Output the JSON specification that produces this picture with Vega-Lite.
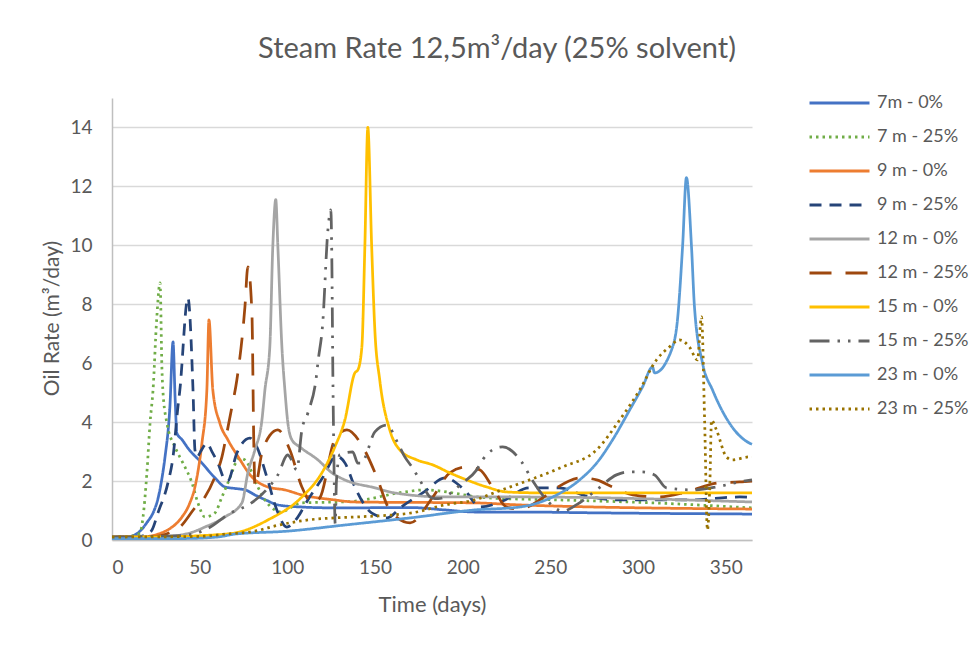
{
"$schema":"https://vega.github.io/schema/vega-lite/v6.json",
"width":640,"height":442,
"autosize":{"type":"none"},
"padding":{"left":112,"top":98,"right":224,"bottom":106},
"background":"white",
"config":{"view":{"stroke":null},"font":"Lato"},
"title":{"text":"Steam Rate 12,5m³/day (25% solvent)","fontSize":29,"fontWeight":"normal","color":"#595959","anchor":"middle","dx":65,"offset":22,"font":"Lato"},
"datasets":{"raw":[
{"s":"7m - 0%","d":0,"v":0.1},{"s":"7m - 0%","d":10,"v":0.12},{"s":"7m - 0%","d":15,"v":0.25},{"s":"7m - 0%","d":20,"v":0.6},{"s":"7m - 0%","d":24,"v":1.0},{"s":"7m - 0%","d":26.2,"v":1.4},{"s":"7m - 0%","d":28.5,"v":2.1},{"s":"7m - 0%","d":30.2,"v":2.8},{"s":"7m - 0%","d":33,"v":4.5},{"s":"7m - 0%","d":34.8,"v":6.72},{"s":"7m - 0%","d":36,"v":4.8},{"s":"7m - 0%","d":37,"v":3.63},{"s":"7m - 0%","d":40,"v":3.4},{"s":"7m - 0%","d":43.3,"v":3.12},{"s":"7m - 0%","d":51.3,"v":2.61},{"s":"7m - 0%","d":58.7,"v":2.11},{"s":"7m - 0%","d":64.4,"v":1.8},{"s":"7m - 0%","d":70,"v":1.75},{"s":"7m - 0%","d":76,"v":1.7},{"s":"7m - 0%","d":81.5,"v":1.53},{"s":"7m - 0%","d":88,"v":1.35},{"s":"7m - 0%","d":94.6,"v":1.19},{"s":"7m - 0%","d":108,"v":1.12},{"s":"7m - 0%","d":127,"v":1.09},{"s":"7m - 0%","d":171,"v":1.1},{"s":"7m - 0%","d":190,"v":1.02},{"s":"7m - 0%","d":207,"v":0.95},{"s":"7m - 0%","d":232,"v":0.95},{"s":"7m - 0%","d":278,"v":0.92},{"s":"7m - 0%","d":365,"v":0.88},

{"s":"7 m - 25%","d":0,"v":0.1},{"s":"7 m - 25%","d":10,"v":0.12},{"s":"7 m - 25%","d":14,"v":0.18},{"s":"7 m - 25%","d":16,"v":0.24},{"s":"7 m - 25%","d":17.7,"v":0.78},{"s":"7 m - 25%","d":19.9,"v":2.28},{"s":"7 m - 25%","d":21.7,"v":3.97},{"s":"7 m - 25%","d":23.4,"v":5.09},{"s":"7 m - 25%","d":25.5,"v":7.5},{"s":"7 m - 25%","d":27.4,"v":8.73},{"s":"7 m - 25%","d":28.5,"v":5.77},{"s":"7 m - 25%","d":29,"v":5.09},{"s":"7 m - 25%","d":31.3,"v":3.97},{"s":"7 m - 25%","d":35.9,"v":3.16},{"s":"7 m - 25%","d":40.5,"v":2.61},{"s":"7 m - 25%","d":45.6,"v":1.94},{"s":"7 m - 25%","d":49,"v":1.26},{"s":"7 m - 25%","d":53,"v":0.78},{"s":"7 m - 25%","d":58.7,"v":0.92},{"s":"7 m - 25%","d":62.7,"v":1.46},{"s":"7 m - 25%","d":66.1,"v":1.94},{"s":"7 m - 25%","d":72.9,"v":2.78},{"s":"7 m - 25%","d":75.8,"v":2.72},{"s":"7 m - 25%","d":83.2,"v":1.8},{"s":"7 m - 25%","d":87.2,"v":1.36},{"s":"7 m - 25%","d":92.9,"v":1.02},{"s":"7 m - 25%","d":96,"v":0.95},{"s":"7 m - 25%","d":108,"v":1.26},{"s":"7 m - 25%","d":135,"v":1.3},{"s":"7 m - 25%","d":167,"v":1.63},{"s":"7 m - 25%","d":178,"v":1.7},{"s":"7 m - 25%","d":214,"v":1.43},{"s":"7 m - 25%","d":255,"v":1.36},{"s":"7 m - 25%","d":308,"v":1.26},{"s":"7 m - 25%","d":365,"v":1.09},

{"s":"9 m - 0%","d":0,"v":0.1},{"s":"9 m - 0%","d":20,"v":0.12},{"s":"9 m - 0%","d":26.2,"v":0.2},{"s":"9 m - 0%","d":32,"v":0.35},{"s":"9 m - 0%","d":39.9,"v":0.78},{"s":"9 m - 0%","d":44,"v":1.2},{"s":"9 m - 0%","d":47.3,"v":1.8},{"s":"9 m - 0%","d":49.5,"v":2.5},{"s":"9 m - 0%","d":51.3,"v":3.29},{"s":"9 m - 0%","d":54.1,"v":5.09},{"s":"9 m - 0%","d":55.3,"v":7.47},{"s":"9 m - 0%","d":57.5,"v":5.09},{"s":"9 m - 0%","d":61.5,"v":3.97},{"s":"9 m - 0%","d":66.1,"v":3.4},{"s":"9 m - 0%","d":72,"v":2.82},{"s":"9 m - 0%","d":79.8,"v":2.14},{"s":"9 m - 0%","d":88.9,"v":1.8},{"s":"9 m - 0%","d":98.6,"v":1.7},{"s":"9 m - 0%","d":108.3,"v":1.53},{"s":"9 m - 0%","d":127,"v":1.36},{"s":"9 m - 0%","d":138.5,"v":1.29},{"s":"9 m - 0%","d":207,"v":1.26},{"s":"9 m - 0%","d":232.5,"v":1.19},{"s":"9 m - 0%","d":365,"v":1.05},

{"s":"9 m - 25%","d":0,"v":0.1},{"s":"9 m - 25%","d":15,"v":0.12},{"s":"9 m - 25%","d":20,"v":0.2},{"s":"9 m - 25%","d":22.8,"v":0.34},{"s":"9 m - 25%","d":26.2,"v":0.92},{"s":"9 m - 25%","d":31.9,"v":1.94},{"s":"9 m - 25%","d":34.8,"v":2.82},{"s":"9 m - 25%","d":37.6,"v":4.52},{"s":"9 m - 25%","d":38.7,"v":5.09},{"s":"9 m - 25%","d":43.3,"v":8.22},{"s":"9 m - 25%","d":46.2,"v":5.09},{"s":"9 m - 25%","d":47.3,"v":3.06},{"s":"9 m - 25%","d":48.4,"v":2.82},{"s":"9 m - 25%","d":51,"v":3.05},{"s":"9 m - 25%","d":54.1,"v":3.29},{"s":"9 m - 25%","d":57,"v":3.0},{"s":"9 m - 25%","d":60.4,"v":2.61},{"s":"9 m - 25%","d":64.4,"v":2.04},{"s":"9 m - 25%","d":66,"v":2.0},{"s":"9 m - 25%","d":71.2,"v":2.95},{"s":"9 m - 25%","d":78.6,"v":3.46},{"s":"9 m - 25%","d":82.6,"v":3.16},{"s":"9 m - 25%","d":88.3,"v":2.14},{"s":"9 m - 25%","d":94,"v":1.02},{"s":"9 m - 25%","d":99.7,"v":0.44},{"s":"9 m - 25%","d":106,"v":0.78},{"s":"9 m - 25%","d":111,"v":1.29},{"s":"9 m - 25%","d":120,"v":2.1},{"s":"9 m - 25%","d":128,"v":2.85},{"s":"9 m - 25%","d":133,"v":2.6},{"s":"9 m - 25%","d":138.5,"v":1.8},{"s":"9 m - 25%","d":148,"v":0.92},{"s":"9 m - 25%","d":157,"v":0.75},{"s":"9 m - 25%","d":165,"v":1.12},{"s":"9 m - 25%","d":178,"v":1.63},{"s":"9 m - 25%","d":190,"v":2.11},{"s":"9 m - 25%","d":201,"v":1.7},{"s":"9 m - 25%","d":210,"v":1.12},{"s":"9 m - 25%","d":222,"v":1.3},{"s":"9 m - 25%","d":238,"v":1.77},{"s":"9 m - 25%","d":255,"v":1.77},{"s":"9 m - 25%","d":270,"v":1.5},{"s":"9 m - 25%","d":290,"v":1.36},{"s":"9 m - 25%","d":330,"v":1.36},{"s":"9 m - 25%","d":358,"v":1.46},{"s":"9 m - 25%","d":365,"v":1.45},

{"s":"12 m - 0%","d":0,"v":0.1},{"s":"12 m - 0%","d":30,"v":0.12},{"s":"12 m - 0%","d":45,"v":0.25},{"s":"12 m - 0%","d":53,"v":0.44},{"s":"12 m - 0%","d":64.4,"v":0.78},{"s":"12 m - 0%","d":74.1,"v":1.26},{"s":"12 m - 0%","d":77.5,"v":2.28},{"s":"12 m - 0%","d":81.5,"v":3.06},{"s":"12 m - 0%","d":85.5,"v":4.07},{"s":"12 m - 0%","d":87.2,"v":5.09},{"s":"12 m - 0%","d":90,"v":6.55},{"s":"12 m - 0%","d":91.7,"v":9.95},{"s":"12 m - 0%","d":93.4,"v":11.55},{"s":"12 m - 0%","d":94.6,"v":9.95},{"s":"12 m - 0%","d":96.9,"v":6.55},{"s":"12 m - 0%","d":98.6,"v":5.09},{"s":"12 m - 0%","d":100.3,"v":3.97},{"s":"12 m - 0%","d":102.6,"v":3.4},{"s":"12 m - 0%","d":107.1,"v":3.16},{"s":"12 m - 0%","d":117.4,"v":2.72},{"s":"12 m - 0%","d":125.4,"v":2.28},{"s":"12 m - 0%","d":132.8,"v":2.04},{"s":"12 m - 0%","d":150,"v":1.77},{"s":"12 m - 0%","d":161,"v":1.6},{"s":"12 m - 0%","d":190,"v":1.46},{"s":"12 m - 0%","d":232,"v":1.46},{"s":"12 m - 0%","d":365,"v":1.29},

{"s":"12 m - 25%","d":0,"v":0.1},{"s":"12 m - 25%","d":25,"v":0.12},{"s":"12 m - 25%","d":33,"v":0.25},{"s":"12 m - 25%","d":38.7,"v":0.44},{"s":"12 m - 25%","d":47.3,"v":1.09},{"s":"12 m - 25%","d":53,"v":1.46},{"s":"12 m - 25%","d":58.7,"v":2.14},{"s":"12 m - 25%","d":62.7,"v":2.82},{"s":"12 m - 25%","d":65.5,"v":3.63},{"s":"12 m - 25%","d":68.4,"v":4.52},{"s":"12 m - 25%","d":71.2,"v":5.43},{"s":"12 m - 25%","d":75.8,"v":7.9},{"s":"12 m - 25%","d":77.5,"v":9.27},{"s":"12 m - 25%","d":79.8,"v":7.7},{"s":"12 m - 25%","d":80.9,"v":3.16},{"s":"12 m - 25%","d":81.5,"v":1.8},{"s":"12 m - 25%","d":85.5,"v":2.95},{"s":"12 m - 25%","d":90,"v":3.55},{"s":"12 m - 25%","d":94.6,"v":3.74},{"s":"12 m - 25%","d":101.4,"v":3.06},{"s":"12 m - 25%","d":108.3,"v":1.8},{"s":"12 m - 25%","d":114,"v":1.26},{"s":"12 m - 25%","d":118.5,"v":1.43},{"s":"12 m - 25%","d":127,"v":3.4},{"s":"12 m - 25%","d":134,"v":3.74},{"s":"12 m - 25%","d":143,"v":3.16},{"s":"12 m - 25%","d":151,"v":2.14},{"s":"12 m - 25%","d":158.4,"v":1.02},{"s":"12 m - 25%","d":170,"v":0.58},{"s":"12 m - 25%","d":183,"v":1.46},{"s":"12 m - 25%","d":192.6,"v":2.28},{"s":"12 m - 25%","d":202.3,"v":2.48},{"s":"12 m - 25%","d":209.7,"v":2.38},{"s":"12 m - 25%","d":217,"v":1.8},{"s":"12 m - 25%","d":225,"v":1.12},{"s":"12 m - 25%","d":232,"v":1.05},{"s":"12 m - 25%","d":248,"v":1.53},{"s":"12 m - 25%","d":253.6,"v":1.77},{"s":"12 m - 25%","d":267.5,"v":2.11},{"s":"12 m - 25%","d":276.4,"v":2.04},{"s":"12 m - 25%","d":285.5,"v":1.8},{"s":"12 m - 25%","d":297,"v":1.53},{"s":"12 m - 25%","d":312,"v":1.46},{"s":"12 m - 25%","d":327.6,"v":1.63},{"s":"12 m - 25%","d":346,"v":1.94},{"s":"12 m - 25%","d":358,"v":1.97},{"s":"12 m - 25%","d":365,"v":2.0},

{"s":"15 m - 0%","d":0,"v":0.1},{"s":"15 m - 0%","d":40,"v":0.12},{"s":"15 m - 0%","d":51.3,"v":0.15},{"s":"15 m - 0%","d":70.1,"v":0.24},{"s":"15 m - 0%","d":88.9,"v":0.68},{"s":"15 m - 0%","d":108.3,"v":1.46},{"s":"15 m - 0%","d":119.7,"v":2.28},{"s":"15 m - 0%","d":127.1,"v":3.16},{"s":"15 m - 0%","d":132.8,"v":4.07},{"s":"15 m - 0%","d":138.5,"v":5.67},{"s":"15 m - 0%","d":140.2,"v":5.77},{"s":"15 m - 0%","d":142.5,"v":6.55},{"s":"15 m - 0%","d":144.2,"v":9.95},{"s":"15 m - 0%","d":145.9,"v":14.0},{"s":"15 m - 0%","d":148.1,"v":9.95},{"s":"15 m - 0%","d":149.9,"v":7.13},{"s":"15 m - 0%","d":152.7,"v":5.43},{"s":"15 m - 0%","d":158.4,"v":3.74},{"s":"15 m - 0%","d":164.1,"v":3.06},{"s":"15 m - 0%","d":173.8,"v":2.72},{"s":"15 m - 0%","d":182.9,"v":2.55},{"s":"15 m - 0%","d":192.6,"v":2.28},{"s":"15 m - 0%","d":202.3,"v":2.04},{"s":"15 m - 0%","d":213.7,"v":1.8},{"s":"15 m - 0%","d":225.1,"v":1.63},{"s":"15 m - 0%","d":243.9,"v":1.6},{"s":"15 m - 0%","d":365,"v":1.6},

{"s":"15 m - 25%","d":0,"v":0.1},{"s":"15 m - 25%","d":40,"v":0.15},{"s":"15 m - 25%","d":55,"v":0.4},{"s":"15 m - 25%","d":67,"v":0.9},{"s":"15 m - 25%","d":78.6,"v":1.22},{"s":"15 m - 25%","d":88,"v":1.7},{"s":"15 m - 25%","d":94.6,"v":2.21},{"s":"15 m - 25%","d":100.3,"v":2.89},{"s":"15 m - 25%","d":101.4,"v":2.82},{"s":"15 m - 25%","d":105.4,"v":2.38},{"s":"15 m - 25%","d":108.3,"v":3.74},{"s":"15 m - 25%","d":111.7,"v":4.31},{"s":"15 m - 25%","d":116.8,"v":5.67},{"s":"15 m - 25%","d":117.4,"v":6.0},{"s":"15 m - 25%","d":120.2,"v":7.37},{"s":"15 m - 25%","d":123.1,"v":10.5},{"s":"15 m - 25%","d":124.8,"v":11.2},{"s":"15 m - 25%","d":125.4,"v":9.4},{"s":"15 m - 25%","d":125.9,"v":6.0},{"s":"15 m - 25%","d":126.5,"v":3.0},{"s":"15 m - 25%","d":127.3,"v":0.55},{"s":"15 m - 25%","d":128,"v":2.0},{"s":"15 m - 25%","d":130,"v":2.9},{"s":"15 m - 25%","d":137.3,"v":2.99},{"s":"15 m - 25%","d":140.2,"v":2.61},{"s":"15 m - 25%","d":142.5,"v":2.61},{"s":"15 m - 25%","d":144.2,"v":2.78},{"s":"15 m - 25%","d":149.9,"v":3.67},{"s":"15 m - 25%","d":156.7,"v":3.9},{"s":"15 m - 25%","d":163,"v":3.29},{"s":"15 m - 25%","d":167,"v":2.82},{"s":"15 m - 25%","d":171.5,"v":2.44},{"s":"15 m - 25%","d":175.5,"v":2.04},{"s":"15 m - 25%","d":182.3,"v":1.43},{"s":"15 m - 25%","d":186,"v":1.4},{"s":"15 m - 25%","d":200,"v":1.94},{"s":"15 m - 25%","d":208,"v":2.38},{"s":"15 m - 25%","d":211.4,"v":2.72},{"s":"15 m - 25%","d":217.1,"v":3.06},{"s":"15 m - 25%","d":222.8,"v":3.16},{"s":"15 m - 25%","d":233.6,"v":2.65},{"s":"15 m - 25%","d":240,"v":2.0},{"s":"15 m - 25%","d":247.9,"v":1.36},{"s":"15 m - 25%","d":257,"v":0.98},{"s":"15 m - 25%","d":265,"v":1.2},{"s":"15 m - 25%","d":276.4,"v":1.7},{"s":"15 m - 25%","d":287.7,"v":2.21},{"s":"15 m - 25%","d":294,"v":2.31},{"s":"15 m - 25%","d":302,"v":2.31},{"s":"15 m - 25%","d":309.4,"v":2.21},{"s":"15 m - 25%","d":316.2,"v":1.77},{"s":"15 m - 25%","d":331,"v":1.7},{"s":"15 m - 25%","d":344.7,"v":1.8},{"s":"15 m - 25%","d":357.8,"v":1.97},{"s":"15 m - 25%","d":365,"v":2.04},

{"s":"23 m - 0%","d":0,"v":0.05},{"s":"23 m - 0%","d":40,"v":0.05},{"s":"23 m - 0%","d":60,"v":0.1},{"s":"23 m - 0%","d":70,"v":0.2},{"s":"23 m - 0%","d":100,"v":0.3},{"s":"23 m - 0%","d":133,"v":0.51},{"s":"23 m - 0%","d":170,"v":0.75},{"s":"23 m - 0%","d":207,"v":1.02},{"s":"23 m - 0%","d":232.5,"v":1.12},{"s":"23 m - 0%","d":251.3,"v":1.46},{"s":"23 m - 0%","d":266.7,"v":2.04},{"s":"23 m - 0%","d":276.4,"v":2.61},{"s":"23 m - 0%","d":285.5,"v":3.4},{"s":"23 m - 0%","d":295.2,"v":4.41},{"s":"23 m - 0%","d":302.6,"v":5.2},{"s":"23 m - 0%","d":308.3,"v":5.87},{"s":"23 m - 0%","d":309.4,"v":5.67},{"s":"23 m - 0%","d":319.7,"v":6.55},{"s":"23 m - 0%","d":322.5,"v":7.47},{"s":"23 m - 0%","d":325.4,"v":9.95},{"s":"23 m - 0%","d":327.6,"v":12.3},{"s":"23 m - 0%","d":330.5,"v":9.95},{"s":"23 m - 0%","d":332.2,"v":7.9},{"s":"23 m - 0%","d":336.8,"v":6.0},{"s":"23 m - 0%","d":342.5,"v":5.09},{"s":"23 m - 0%","d":352.1,"v":3.97},{"s":"23 m - 0%","d":363.5,"v":3.29},{"s":"23 m - 0%","d":365,"v":3.25},

{"s":"23 m - 25%","d":0,"v":0.1},{"s":"23 m - 25%","d":50,"v":0.12},{"s":"23 m - 25%","d":65,"v":0.2},{"s":"23 m - 25%","d":81.5,"v":0.3},{"s":"23 m - 25%","d":94.6,"v":0.5},{"s":"23 m - 25%","d":111.7,"v":0.68},{"s":"23 m - 25%","d":127,"v":0.75},{"s":"23 m - 25%","d":138.5,"v":0.78},{"s":"23 m - 25%","d":171,"v":0.92},{"s":"23 m - 25%","d":189.7,"v":1.19},{"s":"23 m - 25%","d":206.8,"v":1.36},{"s":"23 m - 25%","d":220,"v":1.65},{"s":"23 m - 25%","d":238.2,"v":2.04},{"s":"23 m - 25%","d":257,"v":2.48},{"s":"23 m - 25%","d":276.4,"v":3.06},{"s":"23 m - 25%","d":289.5,"v":4.07},{"s":"23 m - 25%","d":300.9,"v":5.09},{"s":"23 m - 25%","d":310.5,"v":6.11},{"s":"23 m - 25%","d":317.9,"v":6.55},{"s":"23 m - 25%","d":323.6,"v":6.79},{"s":"23 m - 25%","d":329.3,"v":6.55},{"s":"23 m - 25%","d":333.9,"v":6.11},{"s":"23 m - 25%","d":336.2,"v":7.57},{"s":"23 m - 25%","d":338,"v":4.0},{"s":"23 m - 25%","d":339.6,"v":0.34},{"s":"23 m - 25%","d":341,"v":2.0},{"s":"23 m - 25%","d":341.9,"v":4.07},{"s":"23 m - 25%","d":344.7,"v":3.74},{"s":"23 m - 25%","d":350.4,"v":2.82},{"s":"23 m - 25%","d":353.8,"v":2.72},{"s":"23 m - 25%","d":363.5,"v":2.82},{"s":"23 m - 25%","d":365,"v":2.82}
]},
"data":{"name":"raw"},
"mark":{"type":"line","strokeWidth":2.75,"interpolate":"monotone"},
"encoding":{
"x":{"field":"d","type":"quantitative","scale":{"domain":[0,365],"nice":false,"zero":false},
"axis":{"values":[0,50,100,150,200,250,300,350],"title":"Time (days)","grid":false,"ticks":false,"tickSize":0,"labelPadding":18,"labelFontSize":19,"labelColor":"#595959","labelFont":"Lato","domainColor":"#BFBFBF","domainWidth":1.5,"titleFontSize":22,"titleFontWeight":"normal","titleColor":"#595959","titleFont":"Lato","titleY":64,"titleBaseline":"middle"}},
"y":{"field":"v","type":"quantitative","scale":{"domain":[0,15],"nice":false},
"axis":{"values":[0,2,4,6,8,10,12,14],"title":"Oil Rate (m³/day)","grid":true,"gridColor":"#D9D9D9","gridWidth":1.5,"ticks":false,"tickSize":0,"labelPadding":20,"labelFontSize":19,"labelColor":"#595959","labelFont":"Lato","domainColor":"#BFBFBF","domainWidth":1.5,"titleFontSize":21,"titleFontWeight":"normal","titleColor":"#595959","titleFont":"Lato","titleX":-60,"titleY":220,"titleBaseline":"middle","titleAngle":-90,"titleAlign":"center"}},
"color":{"field":"s","type":"nominal",
"scale":{"domain":["7m - 0%","7 m - 25%","9 m - 0%","9 m - 25%","12 m - 0%","12 m - 25%","15 m - 0%","15 m - 25%","23 m - 0%","23 m - 25%"],
"range":["#4472C4","#70AD47","#ED7D31","#264478","#A5A5A5","#9E480E","#FFC000","#636363","#5B9BD5","#997300"]},
"legend":{"title":null,"orient":"none","legendX":696,"legendY":-12,"symbolType":"stroke","symbolSize":3600,"symbolStrokeWidth":3,"labelFontSize":18,"labelColor":"#595959","labelFont":"Lato","rowPadding":0,"clipHeight":34,"labelOffset":6,"padding":0,"symbolOffset":0}},
"strokeDash":{"field":"s","type":"nominal",
"scale":{"domain":["7m - 0%","7 m - 25%","9 m - 0%","9 m - 25%","12 m - 0%","12 m - 25%","15 m - 0%","15 m - 25%","23 m - 0%","23 m - 25%"],
"range":[[1,0],[2.5,4],[1,0],[12,8],[1,0],[22,14],[1,0],[20,8,2.5,8,2.5,8],[1,0],[2.5,4]]},
"legend":{"title":null,"orient":"none","legendX":696,"legendY":-12,"symbolType":"stroke","symbolSize":3600,"symbolStrokeWidth":3,"labelFontSize":18,"labelColor":"#595959","labelFont":"Lato","rowPadding":0,"clipHeight":34,"labelOffset":6,"padding":0,"symbolOffset":0}}
}
}
